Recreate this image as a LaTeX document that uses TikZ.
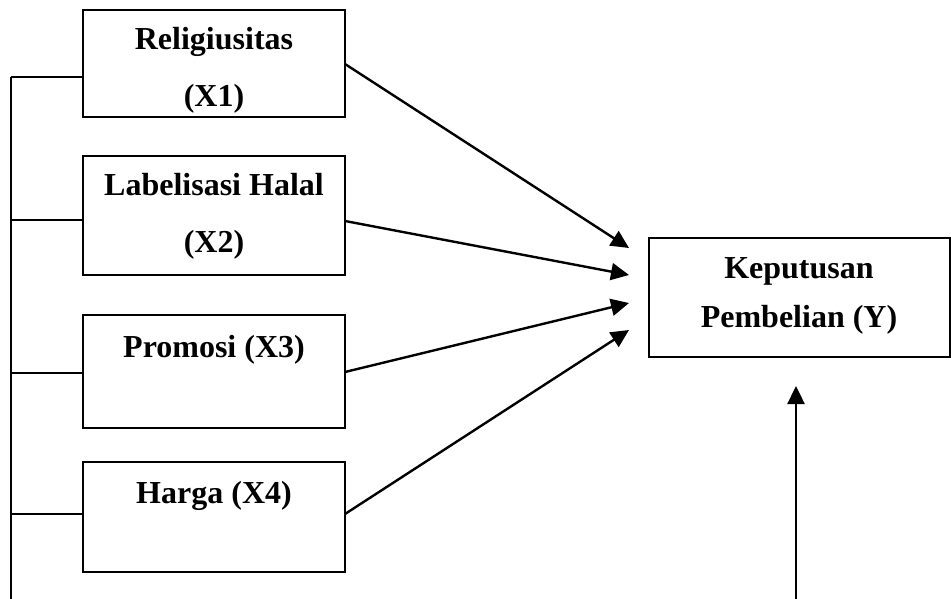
\documentclass[tikz,border=0pt]{standalone}
\usepackage{fontspec}
\setmainfont{Liberation Serif}
\usetikzlibrary{arrows.meta}
\begin{document}
\begin{tikzpicture}[x=1pt,y=-1pt,
  varbox/.style={draw, line width=1.8pt, rectangle, inner sep=0pt, minimum width=262pt},
  lbl/.style={anchor=base, inner sep=0pt, font=\fontsize{32}{36}\selectfont\bfseries},
  link/.style={line width=1.6pt},
  arr/.style={line width=2.4pt, -{Triangle[length=18pt,width=17pt]}}]
\useasboundingbox (0,0) rectangle (951,599);
% boxes
\node[varbox, minimum height=107pt] (b1) at (214,63.5) {};
\node[varbox, minimum height=119pt] (b2) at (214,215.5) {};
\node[varbox, minimum height=113pt] (b3) at (214,371.5) {};
\node[varbox, minimum height=110pt] (b4) at (214,517) {};
\node[varbox, minimum width=301pt, minimum height=119pt] (y) at (799.5,297.5) {};
% labels
\node[lbl] (t1a) at (214,50) {Religiusitas};
\node[lbl] (t1b) at (214,107) {(X1)};
\node[lbl] (t2a) at (214,196) {Labelisasi Halal};
\node[lbl] (t2b) at (214,252) {(X2)};
\node[lbl] (t3) at (214,357) {Promosi (X3)};
\node[lbl] (t4) at (214,503) {Harga (X4)};
\node[lbl] (ta) at (799,278) {Keputusan};
\node[lbl] (tb) at (799,327) {Pembelian (Y)};
% left spine
\coordinate (s1) at (11,77);
\coordinate (s2) at (11,220);
\coordinate (s3) at (11,373);
\coordinate (s4) at (11,514);
\coordinate (sb) at (11,599);
\draw[link] (s1) -- (sb);
\draw[link] (s1) -- (b1.west |- s1);
\draw[link] (s2) -- (b2.west |- s2);
\draw[link] (s3) -- (b3.west |- s3);
\draw[link] (s4) -- (b4.west |- s4);
% arrows
\coordinate (in1) at (629,248);
\coordinate (in2) at (629,275);
\coordinate (in3) at (629,303);
\coordinate (in4) at (629,330);
\coordinate (e1) at (345,64);
\coordinate (e2) at (345,221);
\coordinate (e3) at (345,372);
\coordinate (e4) at (345,514);
\draw[arr] (e1) -- (in1);
\draw[arr] (e2) -- (in2);
\draw[arr] (e3) -- (in3);
\draw[arr] (e4) -- (in4);
\coordinate (vb) at (796,599);
\coordinate (vt) at (796,386);
\draw[arr] (vb) -- (vt);
\end{tikzpicture}
\end{document}
